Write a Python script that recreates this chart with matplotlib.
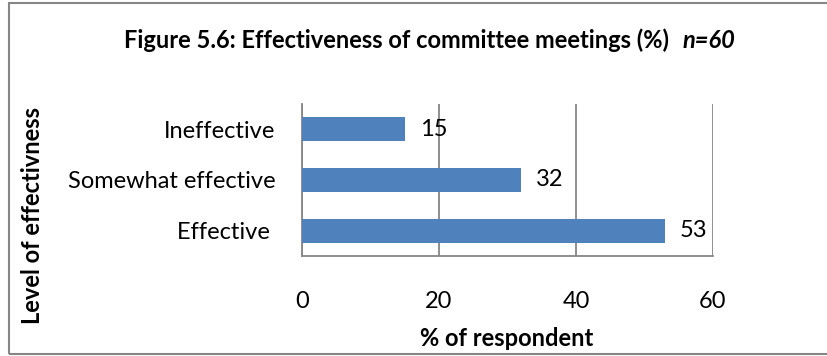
import matplotlib.pyplot as plt
from matplotlib.patches import Rectangle

categories = ["Effective ", "Somewhat effective", "Ineffective"]
values = [53, 32, 15]
xticks = [0, 20, 40, 60]

plt.rcParams["font.family"] = ["Lato", "DejaVu Sans"]
FS = 17

W, H = 828, 356
fig = plt.figure(figsize=(W / 100, H / 100), dpi=100)
ax = fig.add_axes([302 / W, 1 - 256 / H, (713 - 302) / W, (256 - 104) / H])

ax.barh(range(len(categories)), values, height=0.47, color="#4f81bd", zorder=3)
for i, v in enumerate(values):
    ax.text(v + 2.2, i, str(v), va="center", ha="left", fontsize=FS, zorder=4)

ax.set_xlim(0, 60)
ax.set_ylim(-0.5, len(categories) - 0.5)
ax.set_xticks(xticks)
ax.set_yticks(range(len(categories)))
ax.set_yticklabels(categories, fontsize=FS)
ax.tick_params(axis="x", labelsize=FS, length=0, pad=25)
ax.tick_params(axis="y", length=0, pad=19)
ax.grid(axis="x", color="#868686", linewidth=1.3, zorder=0)

for s in ["top", "right"]:
    ax.spines[s].set_visible(False)
for s in ["left", "bottom"]:
    ax.spines[s].set_color("#868686")
    ax.spines[s].set_linewidth(1.3)

fig.text(507 / W, 1 - 338 / H, "% of respondent", fontsize=FS,
         fontweight="bold", ha="center", va="center")
fig.text(33 / W, 1 - 216 / H, "Level of effectivness", rotation=90,
         fontsize=FS, fontweight="bold", ha="center", va="center")
fig.text(669 / W, 1 - 40 / H, "Figure 5.6: Effectiveness of committee meetings (%)",
         fontsize=FS, fontweight="bold", ha="right", va="center")
fig.text(683 / W, 1 - 40 / H, "n=60", fontsize=FS, fontweight="bold",
         style="italic", ha="left", va="center")

# outer chart frame
fig.patches.append(Rectangle((8.5 / W, 2.5 / H), 1.0, 1 - 5 / H,
                             transform=fig.transFigure, fill=False,
                             edgecolor="#868686", linewidth=1.5))

fig.savefig("out.png", dpi=100)
